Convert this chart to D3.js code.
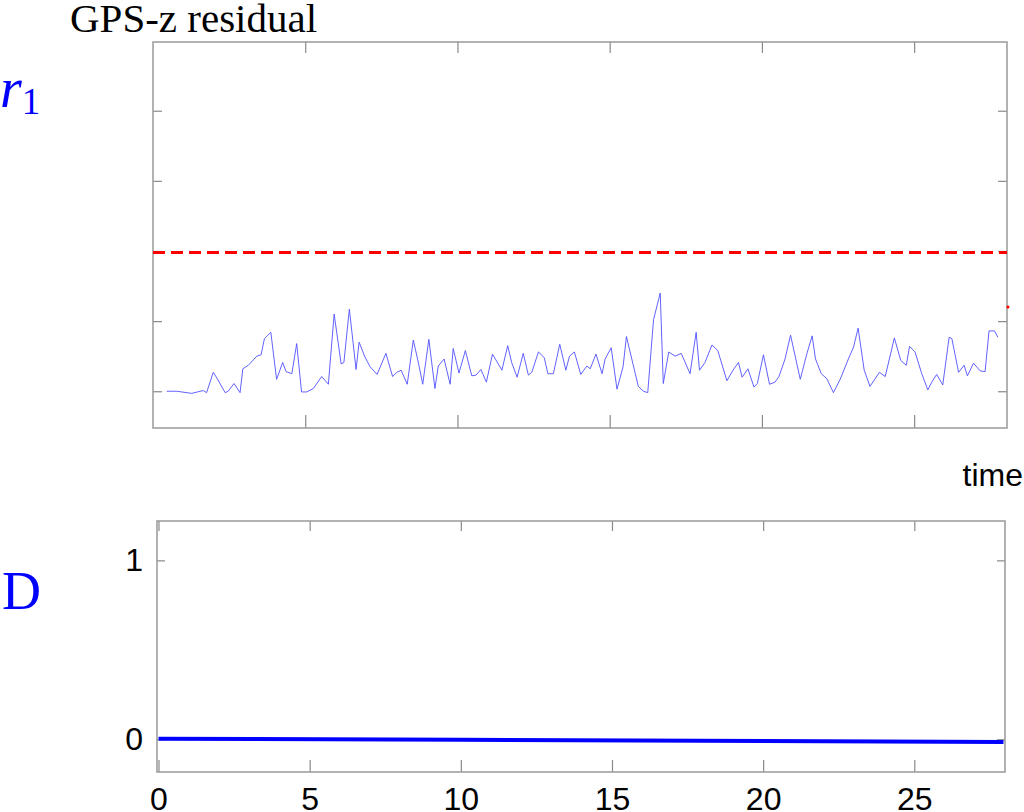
<!DOCTYPE html>
<html>
	<head>
		<title>GPS-z residual</title>
		<style>
			body { margin: 0; background: #fff; }
			svg { display: block; }
			.tick line { stroke: #8a8a8a; stroke-width: 1.2; }
			.frame { fill: none; stroke: #999; stroke-width: 1.5; }
		</style>
	</head>
	<body>
		<div class="chart"></div>

		<script src="https://d3js.org/d3.v7.min.js"></script>

		<script type="text/javascript">
			// residual r1 (top panel)
			var residualTime = [0.45,0.78,1.27,1.65,1.76,1.98,2.11,2.37,2.47,2.66,2.86,2.95,3.13,3.41,3.55,3.66,3.87,4.06,4.26,4.37,
				4.56,4.72,4.88,5.05,5.27,5.54,5.76,5.95,6.18,6.27,6.45,6.67,6.77,6.96,7.13,7.36,7.65,7.87,8.01,8.15,
				8.35,8.55,8.72,8.86,9.06,9.26,9.37,9.56,9.76,9.86,10.05,10.26,10.47,10.61,10.77,10.95,11.15,11.46,11.65,11.78,
				11.96,12.16,12.33,12.44,12.66,12.85,12.97,13.15,13.36,13.56,13.68,13.84,14.05,14.25,14.36,14.55,14.75,14.85,15.05,15.24,
				15.44,15.55,15.94,16.11,16.25,16.44,16.66,16.76,16.94,17.15,17.35,17.64,17.84,17.95,18.13,18.36,18.55,18.85,19.05,19.23,
				19.35,19.54,19.74,19.85,20.05,20.25,20.43,20.56,20.76,20.94,
				21.26,21.48,21.65,21.76,21.95,22.13,22.35,22.57,22.84,23.01,23.16,23.36,23.55,23.86,24.05,24.35,24.56,24.74,24.85,25.03,
				25.25,25.45,25.58,25.74,25.94,26.15,26.24,26.46,26.64,26.75,26.95,27.17,27.33,27.46,27.64,27.75];
			var residualValue = [0.00,0.00,-0.03,0.01,-0.02,0.27,0.18,-0.02,0.00,0.11,-0.02,0.32,0.37,0.50,0.52,0.75,0.84,0.17,0.41,0.28,
				0.25,0.68,-0.01,-0.01,0.04,0.21,0.10,1.10,0.39,0.41,1.17,0.31,0.70,0.49,0.35,0.24,0.54,0.21,0.27,0.30,
				0.10,0.73,0.40,0.10,0.74,0.04,0.36,0.46,0.10,0.61,0.26,0.58,0.22,0.23,0.31,0.13,0.53,0.30,0.65,0.41,
				0.20,0.54,0.23,0.27,0.56,0.48,0.25,0.25,0.67,0.30,0.50,0.56,0.24,0.36,0.32,0.53,0.25,0.46,0.62,0.03,
				0.35,0.78,0.07,0.00,-0.02,1.02,1.40,0.11,0.56,0.50,0.54,0.25,0.84,0.30,0.41,0.66,0.58,0.15,0.30,0.41,
				0.20,0.32,0.06,0.11,0.52,0.10,0.13,0.21,0.46,0.80,
				0.17,0.54,0.79,0.46,0.25,0.18,-0.02,0.17,0.46,0.63,0.90,0.30,0.07,0.27,0.21,0.76,0.44,0.37,0.64,0.56,
				0.25,0.02,0.13,0.24,0.09,0.77,0.75,0.27,0.37,0.22,0.40,0.29,0.28,0.86,0.86,0.77];
			var threshold = 1.98;
			var thresholdMark = {time: 28.08, value: 1.2};

			// decision D (bottom panel)
			var decisionTime = [0, 10, 20, 27.95];
			var decisionValue = [0.003, -0.003, -0.010, -0.016];

			var timeTicks = [0, 5, 10, 15, 20, 25];
			var residualTicks = [0, 1, 2, 3, 4];
			var decisionTicks = [0, 1];

			var svg = d3.select(".chart").append("svg")
				.attr("width", 1024)
				.attr("height", 812);

			function noDomain(a){ a.select(".domain").remove(); }

			// ---------- top panel ----------
			var box1 = {left: 153, right: 1007, top: 42, bottom: 428};
			var x1 = d3.scaleLinear().domain([0, 28.05]).range([box1.left, box1.right]);
			var y1 = d3.scaleLinear().domain([-0.524, 4.98]).range([box1.bottom, box1.top]);

			var g1 = svg.append("g");

			g1.append("g")
				.attr("transform", "translate(0," + box1.bottom + ")")
				.call(d3.axisBottom(x1).tickValues(timeTicks.slice(1)).tickSize(-13).tickFormat(""))
				.call(noDomain);
			g1.append("g")
				.attr("transform", "translate(0," + box1.top + ")")
				.call(d3.axisTop(x1).tickValues(timeTicks.slice(1)).tickSize(-11).tickFormat(""))
				.call(noDomain);
			g1.append("g")
				.attr("transform", "translate(" + box1.left + ",0)")
				.call(d3.axisLeft(y1).tickValues(residualTicks).tickSize(-9).tickFormat(""))
				.call(noDomain);
			g1.append("g")
				.attr("transform", "translate(" + box1.right + ",0)")
				.call(d3.axisRight(y1).tickValues(residualTicks).tickSize(-9).tickFormat(""))
				.call(noDomain);

			g1.append("rect")
				.attr("class", "frame")
				.attr("x", box1.left)
				.attr("y", box1.top)
				.attr("width", box1.right - box1.left)
				.attr("height", box1.bottom - box1.top);

			var residual = residualTime.map(function(t, i){ return {time: t, value: residualValue[i]}; });

			var line1 = d3.line()
				.x(function(d){ return x1(d.time); })
				.y(function(d){ return y1(d.value); });

			g1.append("path")
				.datum(residual)
				.attr("d", line1)
				.attr("fill", "none")
				.attr("stroke", "#5050ff")
				.attr("stroke-width", 0.9);

			g1.append("line")
				.attr("x1", x1.range()[0])
				.attr("x2", x1.range()[1])
				.attr("y1", y1(threshold))
				.attr("y2", y1(threshold))
				.attr("stroke", "#ff0000")
				.attr("stroke-width", 3.5)
				.attr("shape-rendering", "crispEdges")
				.attr("stroke-dasharray", "12,6");

			g1.append("circle")
				.attr("cx", x1(thresholdMark.time))
				.attr("cy", y1(thresholdMark.value))
				.attr("r", 1.5)
				.attr("fill", "#ff0000");

			svg.append("text")
				.attr("x", 70)
				.attr("y", 32)
				.attr("font-family", "Liberation Serif, Times New Roman, serif")
				.attr("font-size", 41)
				.attr("fill", "#000")
				.text("GPS-z residual");

			var r1 = svg.append("text")
				.attr("x", 0)
				.attr("y", 107)
				.attr("font-family", "Liberation Serif, Times New Roman, serif")
				.attr("fill", "#0000ff");
			r1.append("tspan")
				.attr("font-style", "italic")
				.attr("font-size", 56)
				.text("r");
			r1.append("tspan")
				.attr("font-size", 37)
				.attr("dy", 7)
				.text("1");

			svg.append("text")
				.attr("x", 1023)
				.attr("y", 486)
				.attr("text-anchor", "end")
				.attr("font-family", "Liberation Sans, Arial, sans-serif")
				.attr("font-size", 32)
				.attr("fill", "#000")
				.text("time");

			// ---------- bottom panel ----------
			var box2 = {left: 157, right: 1005, top: 521, bottom: 772};
			var x2 = d3.scaleLinear().domain([-0.05, 28.0]).range([box2.left, box2.right]);
			var y2 = d3.scaleLinear().domain([-0.183, 1.22]).range([box2.bottom, box2.top]);

			var g2 = svg.append("g");

			g2.append("g")
				.attr("transform", "translate(0," + box2.bottom + ")")
				.call(d3.axisBottom(x2).tickValues(timeTicks).tickSize(-12).tickPadding(15).tickFormat(d3.format("d")))
				.call(noDomain)
				.selectAll("text")
				.attr("font-family", "Liberation Sans, Arial, sans-serif")
				.attr("font-size", 32)
				.attr("fill", "#000");
			g2.append("g")
				.attr("transform", "translate(0," + box2.top + ")")
				.call(d3.axisTop(x2).tickValues(timeTicks).tickSize(-10).tickFormat(""))
				.call(noDomain);
			g2.append("g")
				.attr("transform", "translate(" + box2.left + ",0)")
				.call(d3.axisLeft(y2).tickValues(decisionTicks).tickSize(-8).tickPadding(14).tickFormat(d3.format("d")))
				.call(noDomain)
				.selectAll("text")
				.attr("font-family", "Liberation Sans, Arial, sans-serif")
				.attr("font-size", 32)
				.attr("fill", "#000");
			g2.append("g")
				.attr("transform", "translate(" + box2.right + ",0)")
				.call(d3.axisRight(y2).tickValues(decisionTicks).tickSize(-8).tickFormat(""))
				.call(noDomain);

			g2.append("rect")
				.attr("class", "frame")
				.attr("x", box2.left)
				.attr("y", box2.top)
				.attr("width", box2.right - box2.left)
				.attr("height", box2.bottom - box2.top);

			var decision = decisionTime.map(function(t, i){ return {time: t, value: decisionValue[i]}; });

			var line2 = d3.line()
				.x(function(d){ return x2(d.time); })
				.y(function(d){ return y2(d.value); });

			g2.append("path")
				.datum(decision)
				.attr("d", line2)
				.attr("fill", "none")
				.attr("stroke", "#0000ff")
				.attr("stroke-width", 4);

			svg.append("text")
				.attr("x", 2)
				.attr("y", 609)
				.attr("font-family", "Liberation Serif, Times New Roman, serif")
				.attr("font-size", 54)
				.attr("fill", "#0000ff")
				.text("D");
		</script>
	</body>
</html>
